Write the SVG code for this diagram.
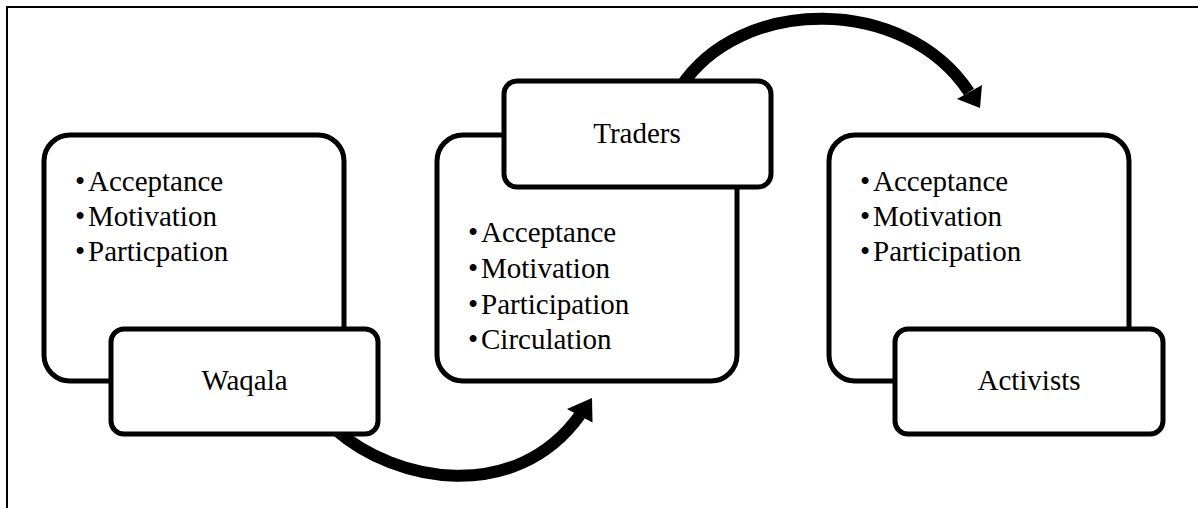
<svg xmlns="http://www.w3.org/2000/svg" width="1198" height="508" viewBox="0 0 1198 508">
<style>
  .frame { fill: none; stroke: #000; stroke-width: 2; }
  .body { fill: #fff; stroke: #000; stroke-width: 5; }
  .label { fill: #fff; stroke: #000; stroke-width: 5; }
  .arc { fill: none; stroke: #000; stroke-width: 12; }
  .head { fill: #000; stroke: none; }
  text { font-family: "Liberation Serif", "Times New Roman", serif; font-size: 29px; fill: #000; }
  .c { text-anchor: middle; }
</style>
<rect x="0" y="0" width="1198" height="508" fill="#fff"/>
<path class="frame" d="M7,508 V7 H1198"/>
<g id="connectors">
  <path class="arc" d="M336,430 C 395,482 515,505 580,415"/>
  <polygon class="head" points="592,398 592.5,422.5 567,409"/>
  <path class="arc" d="M680,88 C 740,-5 905,-5 969,92"/>
  <polygon class="head" points="980,108 982,85 957,99"/>
</g>
<g id="waqala">
  <rect class="body" x="44" y="135" width="300" height="246" rx="26"/>
  <text x="75" y="191">•</text><text x="88" y="191">Acceptance</text>
  <text x="75" y="226">•</text><text x="88" y="226">Motivation</text>
  <text x="75" y="261">•</text><text x="88" y="261">Particpation</text>
  <rect class="label" x="111" y="329" width="267" height="105" rx="13"/>
  <text class="c" x="244.5" y="390">Waqala</text>
</g>
<g id="traders">
  <rect class="body" x="437" y="135" width="300" height="246" rx="26"/>
  <rect class="label" x="504" y="81" width="267" height="106" rx="13"/>
  <text class="c" x="637" y="143">Traders</text>
  <text x="468" y="242">•</text><text x="481" y="242">Acceptance</text>
  <text x="468" y="278">•</text><text x="481" y="278">Motivation</text>
  <text x="468" y="314">•</text><text x="481" y="314">Participation</text>
  <text x="468" y="349">•</text><text x="481" y="349">Circulation</text>
</g>
<g id="activists">
  <rect class="body" x="829" y="135" width="300" height="246" rx="26"/>
  <text x="860" y="191">•</text><text x="873" y="191">Acceptance</text>
  <text x="860" y="226">•</text><text x="873" y="226">Motivation</text>
  <text x="860" y="261">•</text><text x="873" y="261">Participation</text>
  <rect class="label" x="895" y="329" width="268" height="105" rx="13"/>
  <text class="c" x="1029" y="390">Activists</text>
</g>
</svg>
